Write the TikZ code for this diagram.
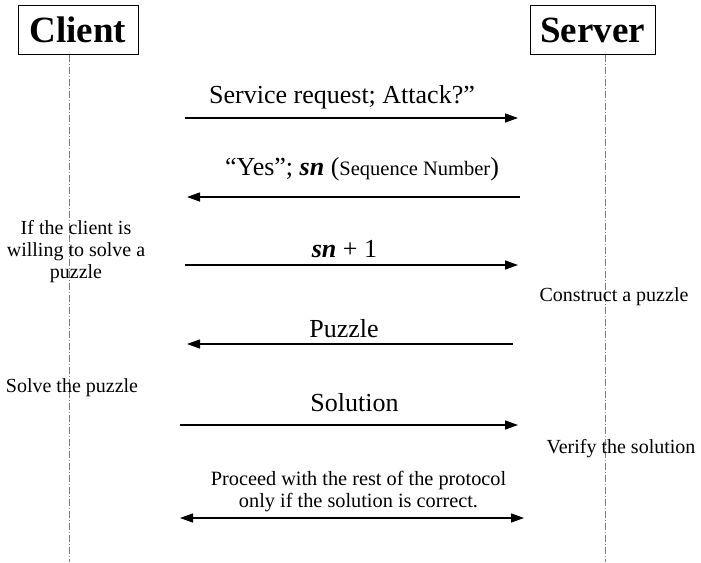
\documentclass[tikz,border=0pt]{standalone}
\usepackage{fontspec}
\setmainfont{Liberation Serif}
\usetikzlibrary{arrows.meta}
\begin{document}
\begin{tikzpicture}[x=1pt,y=-1pt,
  actor/.style={draw,line width=1pt,inner sep=0pt,minimum height=49pt,font=\fontsize{37}{40}\selectfont\bfseries},
  lifeline/.style={draw=gray,line width=0.8pt,dash pattern=on 7pt off 2pt on 1pt off 2pt},
  msg/.style={line width=1.3pt,-{Triangle[length=13pt,width=9pt]}},
  msgb/.style={line width=1.3pt,{Triangle[length=13pt,width=9pt]}-{Triangle[length=13pt,width=9pt]}},
  lbl/.style={inner sep=0pt,anchor=base,font=\fontsize{26}{30}\selectfont},
  note/.style={inner sep=0pt,anchor=base,font=\fontsize{20}{24}\selectfont,align=center}
]
\path[use as bounding box] (0,0) rectangle (701,562);
% actors
\node[actor,minimum width=120pt] (client) at (78,29.5) {Client};
\node[actor,minimum width=125pt] (server) at (592.5,30) {Server};
% lifelines
\coordinate (ctop) at (69,54.5);
\coordinate (cbot) at (69,562);
\coordinate (stop) at (605,55);
\coordinate (sbot) at (605,562);
\draw[lifeline] (ctop) -- (cbot);
\draw[lifeline] (stop) -- (sbot);
% message 1
\coordinate (m1a) at (185,118);
\coordinate (m1b) at (518,118);
\draw[msg] (m1a) -- (m1b);
\node[lbl] (t1) at (342,103) {Service request; Attack?”};
% message 2
\coordinate (m2a) at (520,197);
\coordinate (m2b) at (187,197);
\draw[msg] (m2a) -- (m2b);
\node[lbl] (t2) at (362,175) {“Yes”; \textbf{\textit{sn}} ({\fontsize{20.5}{24}\selectfont Sequence Number})};
% message 3
\coordinate (m3a) at (185,265);
\coordinate (m3b) at (518,265);
\draw[msg] (m3a) -- (m3b);
\node[lbl] (t3) at (344.5,257) {\textbf{\textit{sn}} + 1};
% message 4
\coordinate (m4a) at (513,344);
\coordinate (m4b) at (187,344);
\draw[msg] (m4a) -- (m4b);
\node[lbl] (t4) at (344,337) {Puzzle};
% message 5
\coordinate (m5a) at (180,425);
\coordinate (m5b) at (518,425);
\draw[msg] (m5a) -- (m5b);
\node[lbl] (t5) at (354.5,411) {Solution};
% message 6
\coordinate (m6a) at (180,518);
\coordinate (m6b) at (524,518);
\draw[msgb] (m6a) -- (m6b);
\node[note,font=\fontsize{20.3}{21.5}\selectfont] (t6) at (358.5,507) {Proceed with the rest of the protocol\\only if the solution is correct.};
% side notes
\node[note,font=\fontsize{20}{22}\selectfont] (n1) at (76,278) {If the client is\\willing to solve a\\puzzle};
\node[note] (n2) at (614,301) {Construct a puzzle};
\node[note] (n3) at (72,392) {Solve the puzzle};
\node[note] (n4) at (621,453) {Verify the solution};
\end{tikzpicture}
\end{document}
